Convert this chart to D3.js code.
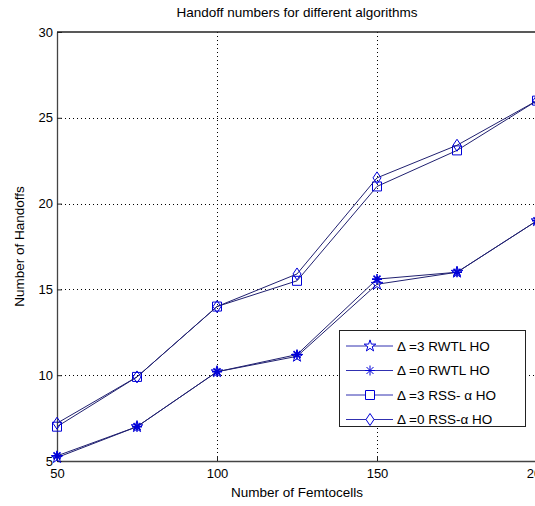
<!DOCTYPE html>
<html><head><meta charset="utf-8">
<script src="https://cdn.jsdelivr.net/npm/d3@7"></script>
<style>body{margin:0;background:#fff}svg{display:block}text{font-family:"Liberation Sans",Arial,sans-serif;fill:#000}</style>
</head><body>
<svg id="c" width="535" height="506"></svg>
<script>
const femtocells = [50, 75, 100, 125, 150, 175, 200];
const rwtl3 = [5.2, 7.0, 10.2, 11.1, 15.3, 16.0, 19.0];
const rwtl0 = [5.3, 7.0, 10.2, 11.2, 15.6, 16.0, 19.0];
const rss3 = [7.0, 9.9, 14.0, 15.5, 21.0, 23.1, 26.0];
const rss0 = [7.2, 9.9, 14.0, 15.9, 21.5, 23.4, 26.0];
const seriesNames = ["\u0394 =3 RWTL HO", "\u0394 =0 RWTL HO", "\u0394 =3 RSS- \u03b1 HO", "\u0394 =0 RSS-\u03b1 HO"];
const seriesMarkers = ["star", "asterisk", "square", "diamond"];
const xTicks = [50, 100, 150, 200];
const yTicks = [5, 10, 15, 20, 25, 30];

const series = [rwtl3, rwtl0, rss3, rss0].map((v, i) => ({name: seriesNames[i], marker: seriesMarkers[i], values: v}));

const svg = d3.select("#c");
const L = 57, R = 537, T = 32, B = 461;
const x = d3.scaleLinear().domain([50, 200]).range([L, R]);
const y = d3.scaleLinear().domain([5, 30]).range([B, T]);
const lineCol = "#202070", markCol = "#0000d8";

// grid
const grid = svg.append("g").attr("stroke", "#000").attr("stroke-width", 1).attr("stroke-dasharray", "1,3");
grid.selectAll("line.gx").data(xTicks.filter(d => d > 50 && d < 200)).join("line")
  .attr("x1", d => Math.round(x(d)) + 0.5).attr("x2", d => Math.round(x(d)) + 0.5).attr("y1", T).attr("y2", B);
grid.selectAll("line.gy").data(yTicks.filter(d => d > 5 && d < 30)).join("line")
  .attr("y1", d => Math.round(y(d)) + 0.5).attr("y2", d => Math.round(y(d)) + 0.5).attr("x1", L).attr("x2", R);

// axes
const xAxis = d3.axisBottom(x).tickValues(xTicks).tickSizeInner(-5).tickSizeOuter(0).tickPadding(5).tickFormat(d3.format("d"));
const yAxis = d3.axisLeft(y).tickValues(yTicks).tickSizeInner(-5).tickSizeOuter(0).tickPadding(5).tickFormat(d3.format("d"));
const gx = svg.append("g").attr("transform", `translate(0,${B})`).call(xAxis);
const gy = svg.append("g").attr("transform", `translate(${L},0)`).call(yAxis);
[gx, gy].forEach(g => {
  g.select(".domain").attr("stroke", "#444").attr("stroke-width", 1.3);
  g.selectAll(".tick line").attr("stroke", "#222");
  g.selectAll(".tick text").attr("font-size", 13).attr("font-family", "'Liberation Sans',Arial,sans-serif").attr("fill", "#111");
});
gx.selectAll(".tick text").attr("dy", "0.9em");
gy.selectAll(".tick text").attr("dx", "1px");
// top border
svg.append("line").attr("x1", L).attr("x2", R).attr("y1", T).attr("y2", T).attr("stroke", "#222").attr("stroke-width", 1.3);

// markers
function markerPath(type, s) {
  if (type === "star") return d3.symbol(d3.symbolStar, s * s * 0.42)();
  if (type === "asterisk") {
    const a = s / 2, b = a * 0.7;
    return `M${-a},0L${a},0M0,${-a}L0,${a}M${-b},${-b}L${b},${b}M${-b},${b}L${b},${-b}`;
  }
  if (type === "square") { const a = s / 2; return `M${-a},${-a}H${a}V${a}H${-a}Z`; }
  if (type === "diamond") { const a = s * 0.4, h = s * 0.6; return `M0,${-h}L${a},0L0,${h}L${-a},0Z`; }
}
const msize = {star: 10, asterisk: 10, square: 9, diamond: 10};

const line = d3.line().x((d, i) => x(femtocells[i])).y(d => y(d));
const plot = svg.append("g");
series.forEach(s => {
  plot.append("path").attr("d", line(s.values)).attr("fill", "none").attr("stroke", lineCol).attr("stroke-width", 1);
  plot.selectAll(null).data(s.values).join("path")
    .attr("transform", (d, i) => `translate(${x(femtocells[i])},${y(d)})`)
    .attr("d", markerPath(s.marker, msize[s.marker]))
    .attr("fill", "none").attr("stroke", markCol).attr("stroke-width", s.marker === "asterisk" ? 1.6 : 1);
});

// legend
const lg = svg.append("g");
lg.append("rect").attr("x", 339.5).attr("y", 330.5).attr("width", 186).attr("height", 96)
  .attr("fill", "#fff").attr("stroke", "#222").attr("stroke-width", 1);
series.forEach((s, i) => {
  const yy = 346 + i * 24.5;
  lg.append("line").attr("x1", 346).attr("x2", 393).attr("y1", yy).attr("y2", yy).attr("stroke", "#3030b0").attr("stroke-width", 1);
  lg.append("path").attr("transform", `translate(370,${yy})`).attr("d", markerPath(s.marker, msize[s.marker]))
    .attr("fill", "#fff").attr("stroke", markCol).attr("stroke-width", 1);
  lg.append("text").attr("x", 397).attr("y", yy).attr("dy", "0.35em").attr("font-size", 13.5).text(s.name);
});

// titles
svg.append("text").attr("x", (L + R) / 2).attr("y", 17).attr("text-anchor", "middle").attr("font-size", 13.5).text("Handoff numbers for different algorithms");
svg.append("text").attr("x", (L + R) / 2).attr("y", 497).attr("text-anchor", "middle").attr("font-size", 13.5).text("Number of Femtocells");
svg.append("text").attr("transform", `translate(24,${(T + B) / 2}) rotate(-90)`).attr("text-anchor", "middle").attr("font-size", 13.5).text("Number of Handoffs");
</script>
</body></html>
